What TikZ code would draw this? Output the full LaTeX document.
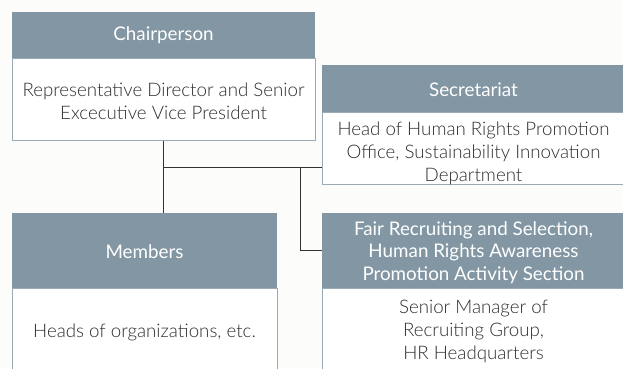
\documentclass[tikz,border=0pt]{standalone}
\usepackage{fontspec}
\setmainfont{Lato Light}
\newfontfamily\hdrfont{Lato}
\usetikzlibrary{calc}
\definecolor{hdrcol}{HTML}{8297A3}
\definecolor{bordcol}{HTML}{9AABB6}
\definecolor{txtcol}{HTML}{2E2E2E}
\definecolor{linecol}{HTML}{333333}
\definecolor{bgcol}{HTML}{FCFCFB}
\tikzset{
  hdr/.style={fill=hdrcol, draw=none, anchor=north west, inner sep=0pt},
  bodybox/.style={fill=white, draw=bordcol, line width=0.8pt, anchor=north west, inner sep=0pt},
  hdrtxt/.style={text=white, inner sep=0pt, align=center, font=\hdrfont\fontsize{18.8}{22.7}\selectfont},
  bodytxt/.style={text=txtcol, inner sep=0pt, align=center, font=\fontsize{18.7}{23.3}\selectfont},
  conn/.style={draw=linecol, line width=0.9pt}
}
\begin{document}
\begin{tikzpicture}[x=1pt,y=-1pt]
\fill[bgcol] (0,0) rectangle (623,368);
\useasboundingbox (0,0) rectangle (623,368);
% Chairperson
\node[bodybox, minimum width=303pt, minimum height=82pt] (chairB) at (12,58) {};
\node[hdr, minimum width=303pt, minimum height=46pt] (chairH) at (12,12) {};
\node[hdrtxt] (chairHt) at (163.5,35.5) {Chairperson};
\node[bodytxt] (chairBt) at (163.5,101.5) {Representative Director and Senior\\Excecutive Vice President};
% Secretariat
\node[bodybox, minimum width=303pt, minimum height=72pt] (secB) at (322,112) {};
\node[hdr, minimum width=303pt, minimum height=47pt] (secH) at (322,65) {};
\node[hdrtxt] (secHt) at (473.5,90) {Secretariat};
\node[bodytxt] (secBt) at (473.5,153.5) {Head of Human Rights Promotion\\Office, Sustainability Innovation\\Department};
% Members
\node[bodybox, minimum width=265pt, minimum height=90pt] (membB) at (12,288) {};
\node[hdr, minimum width=265pt, minimum height=75pt] (membH) at (12,213) {};
\node[hdrtxt] (membHt) at (144.5,252) {Members};
\node[bodytxt] (membBt) at (144.5,332) {Heads of organizations, etc.};
% Fair recruiting
\node[bodybox, minimum width=303pt, minimum height=90pt] (fairB) at (322,288) {};
\node[hdr, minimum width=303pt, minimum height=75pt] (fairH) at (322,213) {};
\node[hdrtxt] (fairHt) at (473.5,252.5) {Fair Recruiting and Selection,\\Human Rights Awareness\\Promotion Activity Section};
\node[bodytxt] (fairBt) at (473.5,331.5) {Senior Manager of\\Recruiting Group,\\HR Headquarters};
% connectors
\coordinate (j1) at ($(chairB.south)+(0,27)$);
\coordinate (j2) at (300,167);
\draw[conn] (chairB.south) -- (chairB.south |- membH.north);
\draw[conn] (j1) -- (j1 -| secB.west);
\draw[conn] (j2) |- (fairH.west);
\end{tikzpicture}
\end{document}
